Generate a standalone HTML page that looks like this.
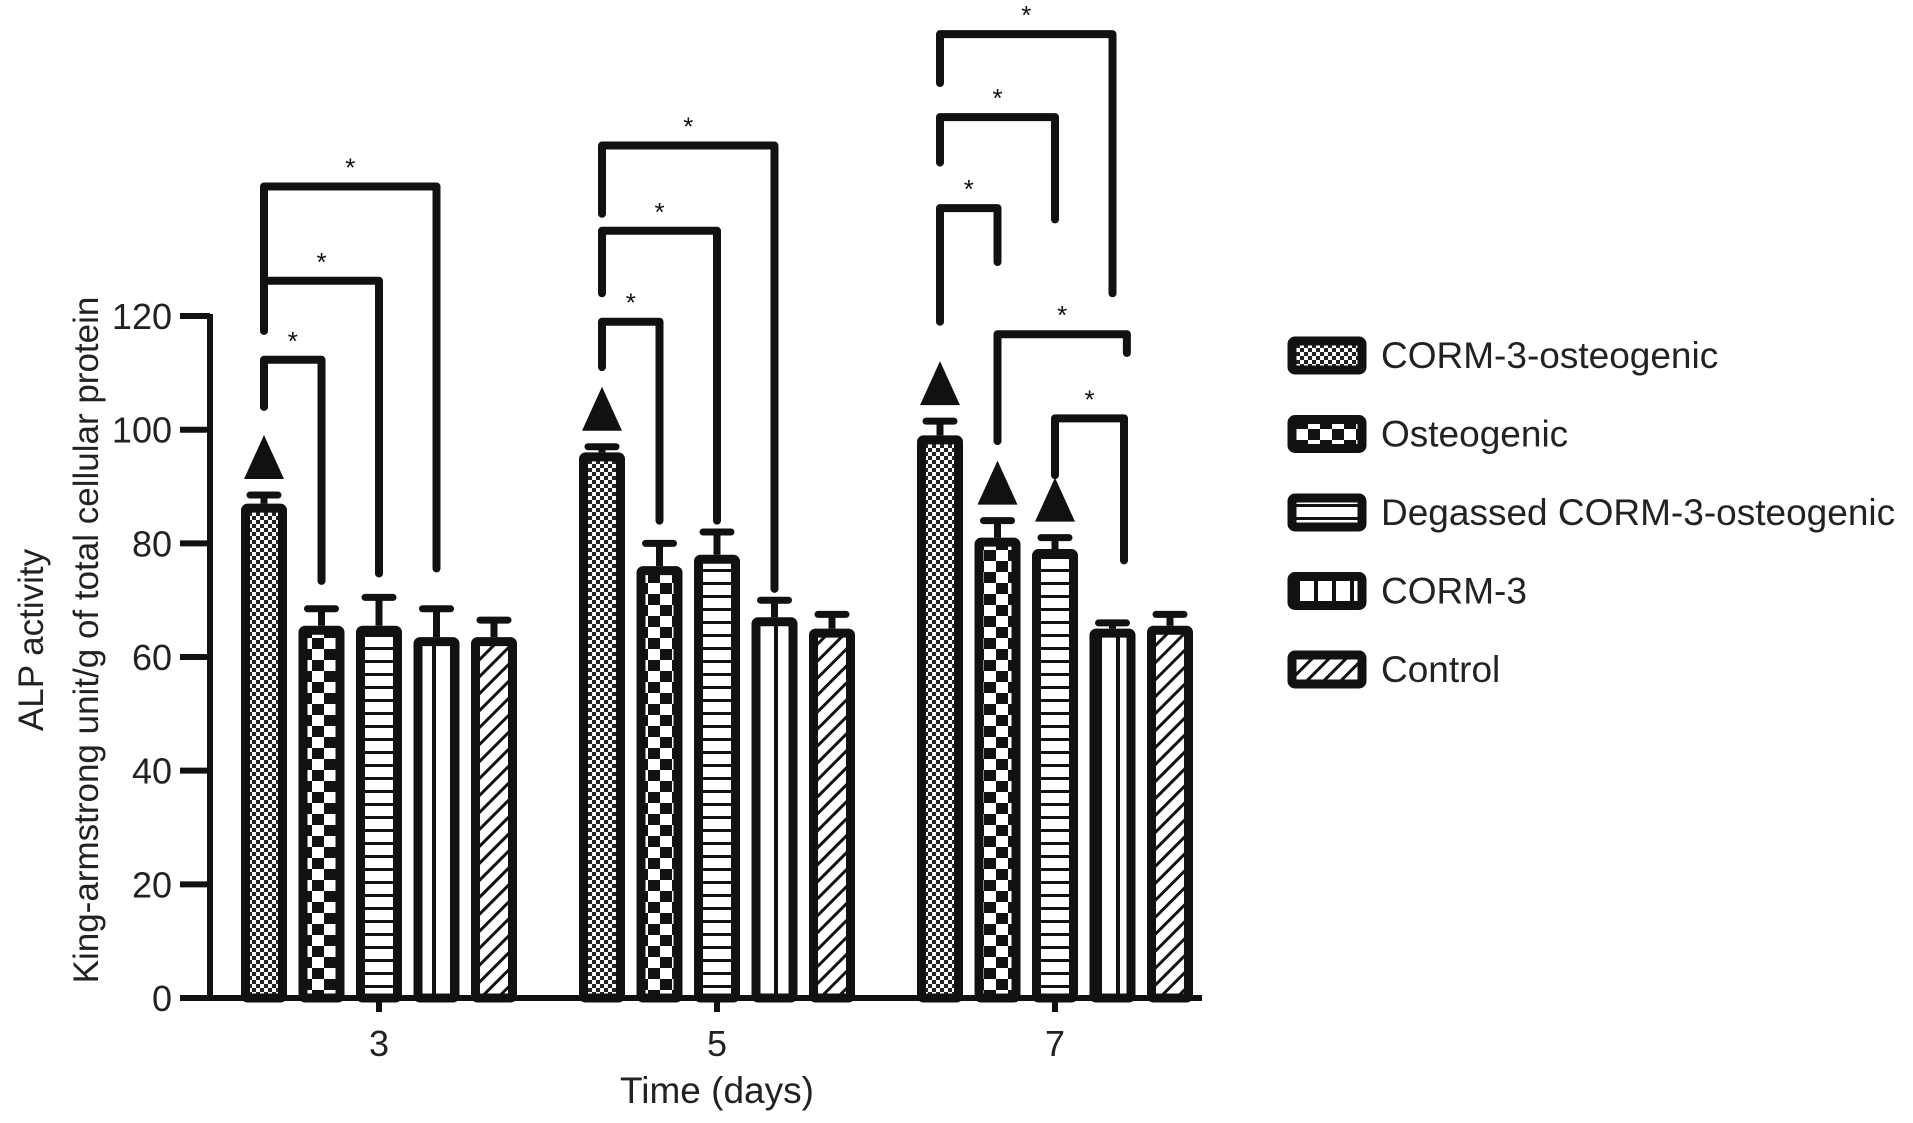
<!DOCTYPE html>
<html><head><meta charset="utf-8"><style>
html,body{margin:0;padding:0;background:#fff;}
svg{display:block;font-family:"Liberation Sans",Arial,sans-serif;}
</style></head><body>
<svg id="chart" width="1913" height="1123" viewBox="0 0 1913 1123" xmlns="http://www.w3.org/2000/svg">
<defs>
<pattern id="p0" width="8" height="8" patternUnits="userSpaceOnUse"><rect width="8" height="8" fill="#fff"/><rect width="4" height="4" fill="#222"/><rect x="4" y="4" width="4" height="4" fill="#222"/></pattern>
<pattern id="p1" width="24" height="22" patternUnits="userSpaceOnUse"><rect width="24" height="22" fill="#fff"/><rect width="12" height="11" fill="#111"/><rect x="12" y="11" width="12" height="11" fill="#111"/></pattern>
<pattern id="p2" width="10" height="13" patternUnits="userSpaceOnUse"><rect width="10" height="13" fill="#fff"/><rect y="10" width="10" height="3" fill="#111"/></pattern>
<pattern id="p3" width="18" height="10" patternUnits="userSpaceOnUse"><rect width="18" height="10" fill="#fff"/><rect x="0" width="4" height="10" fill="#111"/></pattern>
<pattern id="p4" width="12" height="12" patternUnits="userSpaceOnUse" patternTransform="rotate(45)"><rect width="12" height="12" fill="#fff"/><rect width="3" height="12" fill="#111"/></pattern>
</defs>
<g id="plot"></g>
</svg>
<script>
const categories = ["3", "5", "7"];
const seriesNames = ["CORM-3-osteogenic", "Osteogenic", "Degassed CORM-3-osteogenic", "CORM-3", "Control"];
const values0 = [87, 96, 99];
const values1 = [65.5, 76, 81];
const values2 = [65.5, 78, 79];
const values3 = [63.5, 67, 65];
const values4 = [63.5, 65, 65.5];
const errors0 = [1.5, 1, 2.5];
const errors1 = [3, 4, 3];
const errors2 = [5, 4, 2];
const errors3 = [5, 3, 1];
const errors4 = [3, 2.5, 2];
const yTicks = [0, 20, 40, 60, 80, 100, 120];
// brackets: group, fromBar, toBar, top, leftBottom, rightBottom
const brackets = [
 [0,0,1,112.3,104,73.4],[0,0,2,126.2,117.4,74.7],[0,0,3,142.8,117.4,75.6],
 [1,0,1,119,111,84],[1,0,2,135,124,84],[1,0,3,150,138,72],
 [2,0,1,139,119,129.5],[2,0,2,155,147,137],[2,0,3,169.6,161,124],
 [2,1,3.25,116.8,98,113.5],[2,2,3.2,102,92,77]
];
// triangles: group, bar
const triangles = [[0,0],[1,0],[2,0],[2,1],[2,2]];

const NS = "http://www.w3.org/2000/svg";
const g = document.getElementById("plot");
const X0 = 210, Y0 = 998, PX = 5.683;
const groupCenter = [379, 717, 1055];
const barStep = 57.5, barW = 46;
function yS(v){ return Y0 - v * PX; }
function xB(gi, bi){ return groupCenter[gi] + (bi - 2) * barStep; }
function mk(tag, attrs, parent){ const e = document.createElementNS(NS, tag); for (const k in attrs) e.setAttribute(k, attrs[k]); (parent||g).appendChild(e); return e; }
const allVals = [values0, values1, values2, values3, values4];
const allErr = [errors0, errors1, errors2, errors3, errors4];

let ax = mk("line", {x1:X0, y1:Y0, x2:X0, y2:yS(120)-2, stroke:"#111","stroke-width":6});


let xa = mk("line", {x1:X0-30, y1:Y0, x2:1202, y2:Y0, stroke:"#111","stroke-width":6});


yTicks.forEach(t => {
  const y = yS(t);
  const tk = mk("line", {x1:X0-30, y1:y, x2:X0, y2:y, stroke:"#111","stroke-width":6});
  
  
  const tx = mk("text", {x:X0-38, y:y+13, "text-anchor":"end","font-size":36, fill:"#222"});
  tx.textContent = t;
  
  
});
categories.forEach((c, i) => {
  const tk = mk("line", {x1:groupCenter[i], y1:Y0, x2:groupCenter[i], y2:Y0+14, stroke:"#111","stroke-width":6});
  
  
  const tx = mk("text", {x:groupCenter[i], y:Y0+58, "text-anchor":"middle","font-size":36, fill:"#222"});
  tx.textContent = c;
  
  
});
let xt = mk("text", {x:717, y:1103, "text-anchor":"middle","font-size":37, fill:"#222"});
xt.textContent = "Time (days)";


let yt1 = mk("text", {x:0, y:0, "text-anchor":"middle","font-size":35, fill:"#222", transform:"translate(43,640) rotate(-90)"});
yt1.textContent = "ALP activity";


let yt2 = mk("text", {x:0, y:0, "text-anchor":"middle","font-size":35, fill:"#222", transform:"translate(98,640) rotate(-90)"});
yt2.textContent = "King-armstrong unit/g of total cellular protein";



categories.forEach((c, gi) => {
  allVals.forEach((vals, bi) => {
    const v = vals[gi], e = allErr[bi][gi];
    const cx = xB(gi, bi);
    const top = yS(v), etop = yS(v + e);
    const eb = mk("line", {x1:cx, y1:top, x2:cx, y2:etop, stroke:"#111","stroke-width":7});
    
    
    const cap = mk("line", {x1:cx-14, y1:etop, x2:cx+14, y2:etop, stroke:"#111","stroke-width":7,"stroke-linecap":"round"});
    
    
    const r = mk("rect", {x:cx-barW/2+4.5, y:top+4.5, width:barW-9, height:Math.max(0,Y0-top-4.5), fill:"url(#p"+bi+")", stroke:"#111","stroke-width":9, rx:2});
    
    
  });
});

triangles.forEach(([gi, bi]) => {
  const cx = xB(gi, bi);
  const base = yS(allVals[bi][gi] + allErr[bi][gi]) - 16;
  const t = mk("polygon", {points:`${cx-20},${base} ${cx+20},${base} ${cx},${base-44}`, fill:"#111"});
  
  
});

brackets.forEach(([gi, a, b, top, lb, rb]) => {
  const x1 = xB(gi, a), x2 = xB(gi, b);
  const yt = yS(top);
  const p = mk("path", {d:`M${x1},${yS(lb)} L${x1},${yt} L${x2},${yt} L${x2},${yS(rb)}`, fill:"none", stroke:"#111","stroke-width":8,"stroke-linecap":"round","stroke-linejoin":"round"});
  
  
  const s = mk("text", {x:(x1+x2)/2, y:yt-10, "text-anchor":"middle","font-size":26, fill:"#111"});
  s.textContent = "*";
  
  
});

seriesNames.forEach((n, i) => {
  const cy = 355 + i * 78.5;
  const lg = mk("g", {});
  
  
  mk("rect", {x:1292, y:cy-14, width:70, height:29, fill:"url(#p"+i+")", stroke:"#111","stroke-width":9, rx:3}, lg);
  const t = mk("text", {x:1381, y:cy+13, "font-size":37, fill:"#222"}, lg);
  t.textContent = n;
});
</script>
</body></html>
